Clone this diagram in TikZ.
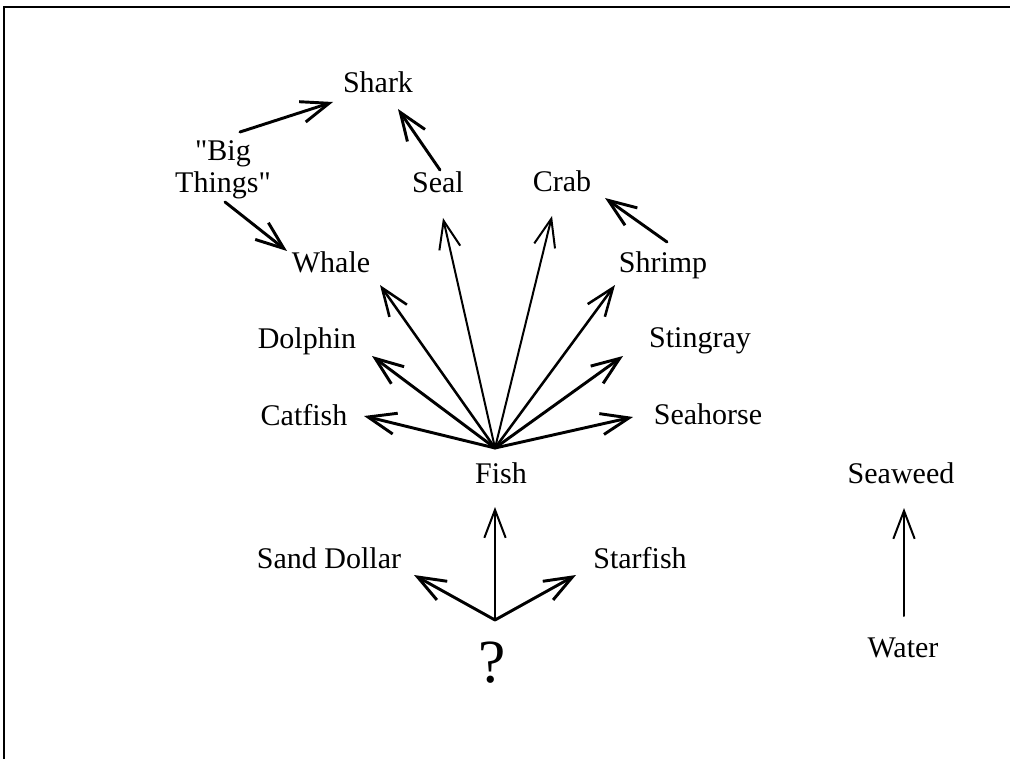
\documentclass[tikz,border=0pt]{standalone}
\usepackage{fontspec}
\setmainfont{Liberation Serif}
\newfontfamily\plainq{Liberation Serif}
\usetikzlibrary{arrows.meta,calc}
\newcommand{\sq}{{\plainq\symbol{34}}}
\begin{document}
\begin{tikzpicture}[x=0.75pt,y=-0.75pt,
  lbl/.style={anchor=base,inner sep=0pt,font=\fontsize{22.5}{24}\selectfont},
  arr/.style={-{Straight Barb[length=21pt,width=16pt]},line width=1.5pt,line cap=round,line join=round},
  thk/.style={line width=2.2pt},
  frame/.style={line width=1.5pt}]
\fill[white] (0,0) rectangle (1010,759);
\useasboundingbox (0,0) rectangle (1010,759);
\draw[frame] (4,759) -- (4,7) -- (1010,7);

% labels
\node[lbl] (shark) at (378,93) {Shark};
\node[lbl,align=center,anchor=center] (big) at (223,170) {\sq Big\\Things\sq};
\node[lbl] (seal) at (438,193) {Seal};
\node[lbl] (crab) at (562,192) {Crab};
\node[lbl] (whale) at (331,273) {Whale};
\node[lbl] (shrimp) at (663,273) {Shrimp};
\node[lbl] (dolphin) at (307,348) {Dolphin};
\node[lbl] (stingray) at (700,347) {Stingray};
\node[lbl] (catfish) at (304,425) {Catfish};
\node[lbl] (seahorse) at (708,424) {Seahorse};
\node[lbl] (fish) at (501,483) {Fish};
\node[lbl] (seaweed) at (901,483) {Seaweed};
\node[lbl] (sand) at (329,568) {Sand Dollar};
\node[lbl] (star) at (640,568) {Starfish};
\node[anchor=base,inner sep=0pt,font=\fontsize{46}{48}\selectfont] (q) at (492,682) {?};
\node[lbl] (water) at (903,657) {Water};

% hubs
\coordinate (fh) at ($(fish.base)+(-6,-35)$);
\coordinate (qh) at ($(q.base)+(3,-62)$);

% "Big Things" and Shark
\draw[arr,thk] ($(big.center)+(17,-38)$) -- ($(shark.base)+(-45,9)$);
\draw[arr,thk] ($(big.center)+(2,32)$) -- ($(whale.base)+(-44,-22)$);
\draw[arr,thk] ($(seal.base)+(2,-23)$) -- ($(shark.base)+(20,16)$);
\draw[arr,thk] ($(shrimp.base)+(4,-31)$) -- ($(crab.base)+(43,6)$);

% fan from Fish
\draw[arr,thk] (fh) -- ($(catfish.base)+(60,-9)$);
\draw[arr,thk] (fh) -- ($(dolphin.base)+(65,8)$);
\draw[arr,line width=1.9pt] (fh) -- ($(whale.base)+(49,12)$);
\draw[arr] (fh) -- ($(seal.base)+(5,25)$);
\draw[arr] (fh) -- ($(crab.base)+(-10,24)$);
\draw[arr,line width=1.9pt] (fh) -- ($(shrimp.base)+(-48,12)$);
\draw[arr,thk] (fh) -- ($(stingray.base)+(-77,9)$);
\draw[arr,thk] (fh) -- ($(seahorse.base)+(-75,-7)$);

% fan from ?
\draw[arr] (qh) -- ($(fish.base)+(-6,24)$);
\draw[arr,thk] (qh) -- ($(sand.base)+(85,7)$);
\draw[arr,thk] (qh) -- ($(star.base)+(-64,7)$);

% Water -> Seaweed
\draw[arr] ($(water.base)+(1,-41)$) -- ($(seaweed.base)+(3,25)$);
\end{tikzpicture}
\end{document}
